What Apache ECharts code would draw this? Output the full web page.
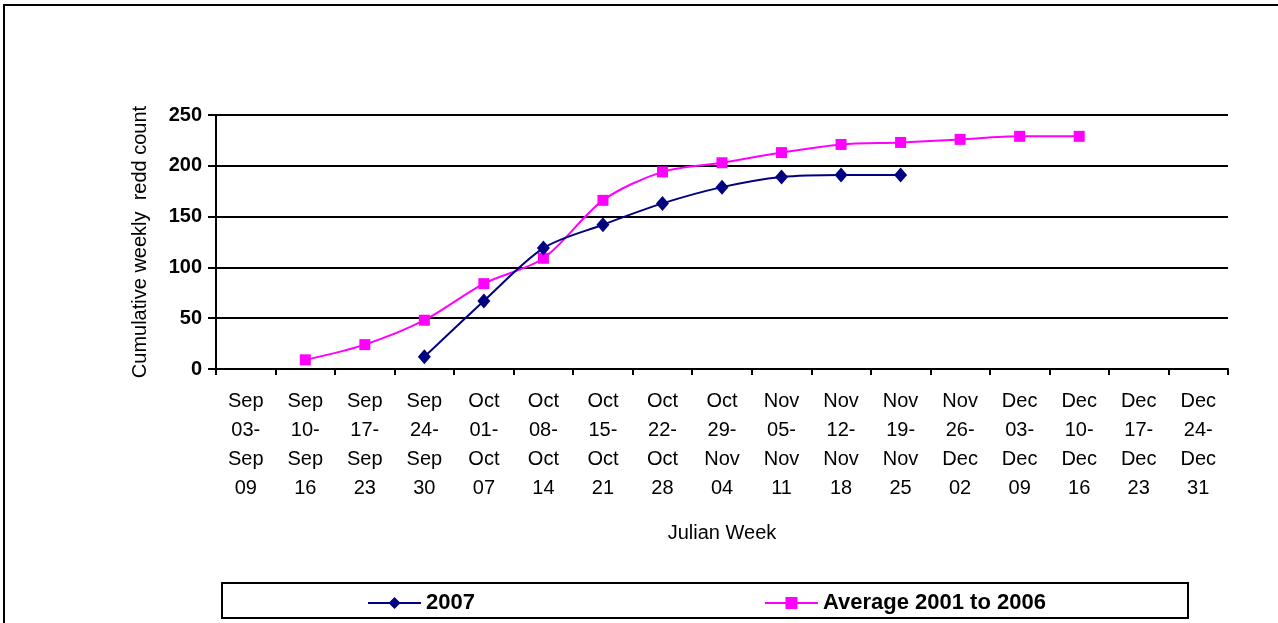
<!DOCTYPE html>
<html>
<head>
<meta charset="utf-8">
<script src="https://cdn.jsdelivr.net/npm/echarts@6/dist/echarts.min.js"></script>
<style>
  html, body { margin: 0; padding: 0; background: #fff; }
  #chart { width: 1278px; height: 623px; }
</style>
</head>
<body>
<div id="chart"></div>
<script>
// week categories
var weeks = [
  'Sep\n03-\nSep\n09', 'Sep\n10-\nSep\n16', 'Sep\n17-\nSep\n23', 'Sep\n24-\nSep\n30',
  'Oct\n01-\nOct\n07', 'Oct\n08-\nOct\n14', 'Oct\n15-\nOct\n21', 'Oct\n22-\nOct\n28',
  'Oct\n29-\nNov\n04', 'Nov\n05-\nNov\n11', 'Nov\n12-\nNov\n18', 'Nov\n19-\nNov\n25',
  'Nov\n26-\nDec\n02', 'Dec\n03-\nDec\n09', 'Dec\n10-\nDec\n16', 'Dec\n17-\nDec\n23',
  'Dec\n24-\nDec\n31'
]
// cumulative counts
var count2007 = [null, null, null, 12, 67, 119, 142, 163, 179, 189, 191, 191, null, null, null, null, null]
var countAvg = [null, 9, 24, 48, 84, 109, 166, 194, 203, 213, 221, 223, 226, 229, 229, null, null]

var FONT = '"Liberation Sans", Arial, sans-serif'

var chart = echarts.init(document.getElementById('chart'))

var option = {
  animation: false,
  backgroundColor: '#fff',
  textStyle: { fontFamily: FONT },
  grid: {
    left: 216,
    right: 50,
    top: 115,
    bottom: 254
  },
  // 外框 + 图例框
  graphic: [
    {
      type: 'rect',
      shape: { x: 4, y: 5, width: 1280, height: 700 },
      style: { fill: 'none', stroke: '#000', lineWidth: 2 },
      silent: true
    },
    {
      type: 'rect',
      shape: { x: 222, y: 583, width: 966, height: 35 },
      style: { fill: '#fff', stroke: '#000', lineWidth: 2 },
      silent: true,
      z: -1
    }
  ],
  legend: {
    left: 367,
    top: 592,
    padding: 0,
    itemGap: 289,
    itemWidth: 53,
    itemHeight: 15,
    textStyle: {
      fontFamily: FONT,
      fontSize: 22,
      fontWeight: 'bold',
      color: '#000'
    },
    data: ['2007', 'Average 2001 to 2006']
  },
  xAxis: {
    type: 'category',
    data: weeks,
    boundaryGap: true,
    name: 'Julian Week',
    nameLocation: 'middle',
    nameGap: 154,
    nameTextStyle: { fontFamily: FONT, fontSize: 20, color: '#000' },
    axisLine: { lineStyle: { color: '#000', width: 2 } },
    axisTick: { show: true, length: 6, inside: false, lineStyle: { color: '#000', width: 2 } },
    axisLabel: {
      interval: 0,
      margin: 18,
      fontFamily: FONT,
      fontSize: 20,
      lineHeight: 29,
      color: '#000'
    },
    splitLine: { show: false }
  },
  yAxis: {
    type: 'value',
    min: 0,
    max: 250,
    interval: 50,
    name: 'Cumulative weekly  redd count',
    nameLocation: 'middle',
    nameRotate: 90,
    nameGap: 66,
    nameTextStyle: { fontFamily: FONT, fontSize: 20, color: '#000' },
    axisLine: { show: true, lineStyle: { color: '#000', width: 2 } },
    axisTick: { show: true, length: 8, lineStyle: { color: '#000', width: 2 } },
    axisLabel: {
      margin: 14,
      fontFamily: FONT,
      fontSize: 20,
      fontWeight: 'bold',
      color: '#000'
    },
    splitLine: { show: true, lineStyle: { color: '#000', width: 2 } }
  },
  series: [
    {
      name: '2007',
      type: 'line',
      data: count2007,
      smooth: 0.3,
      symbol: 'diamond',
      symbolSize: [13, 15],
      color: '#000080',
      lineStyle: { color: '#000080', width: 2 },
      itemStyle: { color: '#000080' },
      z: 3
    },
    {
      name: 'Average 2001 to 2006',
      type: 'line',
      data: countAvg,
      smooth: 0.3,
      symbol: 'rect',
      symbolSize: 11,
      color: '#ff00ff',
      lineStyle: { color: '#ff00ff', width: 2 },
      itemStyle: { color: '#ff00ff' },
      z: 2
    }
  ]
}

chart.setOption(option)
</script>
</body>
</html>
